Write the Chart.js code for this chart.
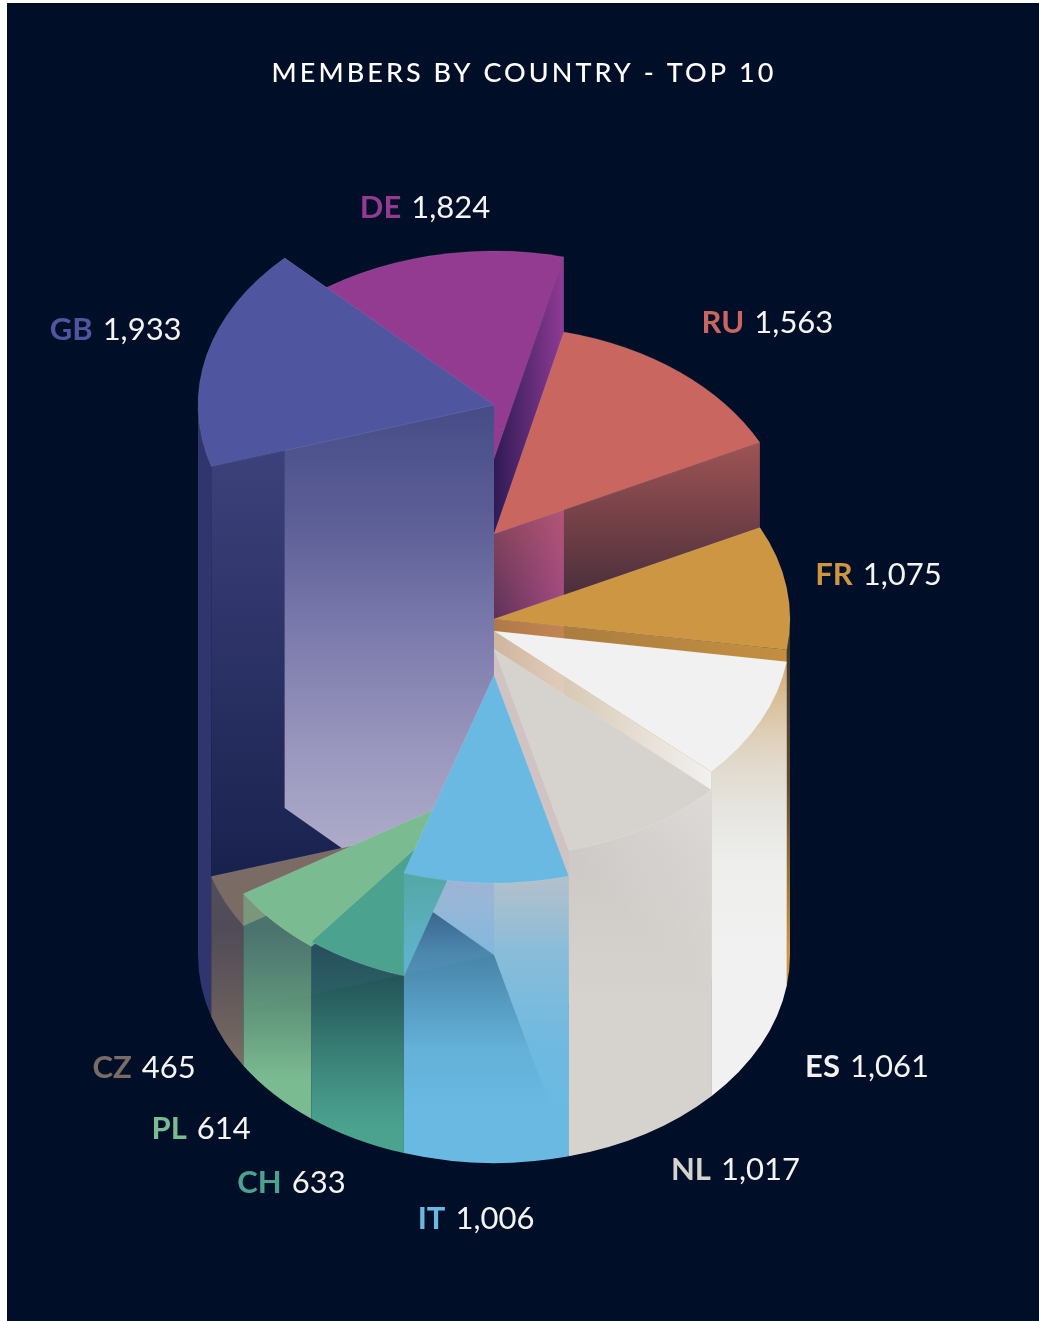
<!DOCTYPE html>
<html>
<head>
<meta charset="utf-8">
<title>Members by country</title>
<script src="https://cdn.jsdelivr.net/npm/chart.js@4/dist/chart.umd.min.js"></script>
<style>
  html, body { margin: 0; padding: 0; background: #fff; }
  #wrap { position: absolute; left: 0; top: 0; width: 1039px; height: 1321px; }
</style>
</head>
<body>
<div id="wrap"><canvas id="myChart" width="1039" height="1321"></canvas></div>
<script>
var countries = ["GB", "DE", "RU", "FR", "ES", "NL", "IT", "CH", "PL", "CZ"];
var members = [1933, 1824, 1563, 1075, 1061, 1017, 1006, 633, 614, 465];
// how tall each column stands
var columnHeight = [550, 496, 421, 336, 324, 306, 280, 177, 172, 140];
var colors = ["#4f569f", "#933b90", "#ca6660", "#cd9642", "#f1f1f1", "#d6d3ce", "#69b9e2", "#4ba28f", "#7bbb92", "#7a6b65"];

// label offset from the slice's mid point, same order as countries
var labelShift = [[-91, -25], [11, -51], [88, -49], [92, -12], [106, 22], [89, 37], [-10, 56], [-64, 44], [-73, 35], [-81, 26]];

var GB = 0, DE = 1, RU = 2, FR = 3, ES = 4, NL = 5, IT = 6, CH = 7, PL = 8, CZ = 9;
var squash = 208 / 296;

function rgba(hex, a) {
    var n = parseInt(hex.slice(1), 16);
    return "rgba(" + (n >> 16) + "," + ((n >> 8) & 255) + "," + (n & 255) + "," + a + ")";
}

function gradient(ctx, x0, y0, x1, y1, stops) {
    var g = ctx.createLinearGradient(x0, y0, x1, y1);
    stops.forEach(function (s) { g.addColorStop(s[0], s[1]); });
    return g;
}

// outer wall: the colour fades in from y0 to y1
function fadeDown(ctx, i, y0, y1, alphas) {
    return gradient(ctx, 0, y0, 0, y1, alphas.map(function (s) {
        return [s[0], rgba(colors[i], s[1])];
    }));
}

function fadeAcross(ctx, i, x0, x1, a0, a1) {
    return gradient(ctx, x0, 0, x1, 0, [[0, rgba(colors[i], a0)], [1, rgba(colors[i], a1)]]);
}

function drawTop(ctx, arc, i) {
    var h = columnHeight[i];
    ctx.beginPath();
    ctx.moveTo(arc.x, arc.y - h);
    ctx.ellipse(arc.x, arc.y - h, arc.outerRadius, arc.outerRadius * squash, 0, arc.startAngle, arc.endAngle);
    ctx.closePath();
    ctx.fillStyle = colors[i];
    ctx.fill();
    ctx.strokeStyle = "rgba(255,255,255,0.18)";
    ctx.lineWidth = 0.5;
    ctx.stroke();
}

function drawWall(ctx, arc, i, angle, fill) {
    var h = columnHeight[i];
    var tx = arc.x + arc.outerRadius * Math.cos(angle);
    var ty = arc.y + arc.outerRadius * squash * Math.sin(angle);
    ctx.beginPath();
    ctx.moveTo(arc.x, arc.y - h);
    ctx.lineTo(tx, ty - h);
    ctx.lineTo(tx, ty);
    ctx.lineTo(arc.x, arc.y);
    ctx.closePath();
    ctx.fillStyle = fill;
    ctx.fill();
}

// only the part of the rim that faces the viewer
function drawOuter(ctx, arc, i, fill) {
    var h = columnHeight[i];
    var ry = arc.outerRadius * squash;
    var a0 = arc.startAngle, a1 = arc.endAngle;
    if (a1 > Math.PI * 2) {
        a0 -= Math.PI * 2;
        a1 -= Math.PI * 2;
    }
    a0 = Math.max(a0, 0);
    a1 = Math.min(a1, Math.PI);
    if (a1 <= a0) return;
    ctx.beginPath();
    ctx.ellipse(arc.x, arc.y - h, arc.outerRadius, ry, 0, a0, a1);
    ctx.ellipse(arc.x, arc.y, arc.outerRadius, ry, 0, a1, a0, true);
    ctx.closePath();
    ctx.fillStyle = fill;
    ctx.fill();
}

var columnsPlugin = {
    id: "columns",
    beforeDraw: function (chart) {
        var ctx = chart.ctx;
        ctx.fillStyle = "#000f27";
        ctx.fillRect(7, 3, chart.width - 7, chart.height - 3);
        ctx.letterSpacing = "3.05px";
    },
    afterLayout: function (chart) {
        chart.titleBlock.left += 30;
        chart.titleBlock.right += 30;
    },
    beforeDatasetsDraw: function (chart) {
        var ctx = chart.ctx;
        var arcs = chart.getDatasetMeta(0).data;
        ctx.letterSpacing = "0px";
        ctx.save();

        drawWall(ctx, arcs[DE], DE, arcs[DE].endAngle, gradient(ctx, 494, 0, 562, 0, [[0, "#2e1a55"], [1, "#8c3a92"]]));
        drawTop(ctx, arcs[DE], DE);

        drawOuter(ctx, arcs[GB], GB, "#30356f");
        drawWall(ctx, arcs[GB], GB, arcs[GB].startAngle, gradient(ctx, 0, 450, 0, 1020, [[0, "#3d417b"], [0.72, "#1a2350"], [1, "#061330"]]));
        drawWall(ctx, arcs[GB], GB, arcs[GB].endAngle, gradient(ctx, 0, 410, 0, 900, [[0, "#474c88"], [0.25, "#5f6198"], [0.4, "#7574a8"], [0.7, "#9a98be"], [1, "#b8b5d0"]]));
        drawTop(ctx, arcs[GB], GB);

        drawWall(ctx, arcs[RU], RU, arcs[RU].endAngle, fadeDown(ctx, RU, 443, 730, [[0, 0.78], [1, 0]]));
        drawTop(ctx, arcs[RU], RU);

        drawOuter(ctx, arcs[FR], FR, fadeDown(ctx, FR, 650, 950, [[0, 0.3], [0.45, 0.45], [1, 1]]));
        drawWall(ctx, arcs[FR], FR, arcs[FR].endAngle, fadeAcross(ctx, FR, 494, 787, 0.72, 0.95));
        drawTop(ctx, arcs[FR], FR);

        drawOuter(ctx, arcs[ES], ES, gradient(ctx, 0, 663, 0, 950, [[0, "rgba(241,241,241,0.3)"], [0.13, "rgba(241,241,241,0.5)"], [0.35, "rgba(228,224,216,0.92)"], [0.5, "#e5e4e0"], [0.7, "#eeeeec"], [1, colors[ES]]]));
        drawWall(ctx, arcs[ES], ES, arcs[ES].endAngle, fadeAcross(ctx, ES, 494, 712, 0.5, 1));
        drawTop(ctx, arcs[ES], ES);

        drawOuter(ctx, arcs[NL], NL, gradient(ctx, 0, 850, 0, 1000, [[0, "#cdc9c6"], [1, colors[NL]]]));
        drawOuter(ctx, arcs[NL], NL, gradient(ctx, 712, 790, 610, 900, [[0, "rgba(255,255,255,0.32)"], [1, "rgba(255,255,255,0)"]]));
        drawWall(ctx, arcs[NL], NL, arcs[NL].endAngle, "#cfc3c3");
        drawTop(ctx, arcs[NL], NL);

        drawOuter(ctx, arcs[CZ], CZ, fadeDown(ctx, CZ, 930, 1060, [[0, 0.6], [1, 1]]));
        drawTop(ctx, arcs[CZ], CZ);
        drawOuter(ctx, arcs[PL], PL, fadeDown(ctx, PL, 930, 1080, [[0, 0.55], [0.47, 0.75], [1, 1]]));
        drawTop(ctx, arcs[PL], PL);
        drawOuter(ctx, arcs[CH], CH, fadeDown(ctx, CH, 950, 1130, [[0, 0.4], [0.28, 0.55], [0.55, 0.75], [0.83, 0.92], [1, 1]]));
        drawTop(ctx, arcs[CH], CH);

        drawOuter(ctx, arcs[IT], IT, fadeDown(ctx, IT, 883, 1110, [[0, 0.3], [0.16, 0.5], [0.3, 0.68], [0.52, 0.82], [0.73, 0.95], [1, 1]]));
        drawTop(ctx, arcs[IT], IT);

        ctx.restore();
        return false;
    },
    afterDraw: function (chart) {
        var ctx = chart.ctx;
        var arcs = chart.getDatasetMeta(0).data;
        ctx.save();
        ctx.textBaseline = "middle";
        arcs.forEach(function (arc, i) {
            var mid = (arc.startAngle + arc.endAngle) / 2;
            var lift = Math.sin(mid) < 0.2 ? columnHeight[i] : 0;
            var x = arc.x + arc.outerRadius * Math.cos(mid) + labelShift[i][0];
            var y = arc.y + arc.outerRadius * squash * Math.sin(mid) - lift + labelShift[i][1];
            var value = members[i].toLocaleString("en-US");
            ctx.font = "bold 31px Lato";
            var w1 = ctx.measureText(countries[i]).width;
            ctx.font = "31px Lato";
            var w2 = ctx.measureText(value).width;
            var left = x - (w1 + 10 + w2) / 2;
            ctx.textAlign = "left";
            ctx.font = "bold 31px Lato";
            ctx.fillStyle = colors[i];
            ctx.fillText(countries[i], left, y);
            ctx.font = "31px Lato";
            ctx.fillStyle = "#f4f4f4";
            ctx.fillText(value, left + w1 + 10, y);
        });
        ctx.restore();
    }
};

var myChart = new Chart(document.getElementById("myChart"), {
    type: "pie",
    data: {
        labels: countries,
        datasets: [
            {
                label: "Members",
                data: members,
                backgroundColor: colors,
                borderWidth: 0
            }
        ]
    },
    options: {
        responsive: false,
        animation: false,
        events: [],
        rotation: 252.8,
        layout: { padding: { left: 198, right: 249, top: 0, bottom: 70 } },
        plugins: {
            legend: { display: false },
            tooltip: { enabled: false },
            title: {
                display: true,
                text: "MEMBERS BY COUNTRY - TOP 10",
                color: "#ffffff",
                font: { family: "Lato", size: 27, weight: "500", lineHeight: 1.2 },
                padding: { top: 57, bottom: 569.6 }
            }
        }
    },
    plugins: [columnsPlugin]
});
</script>
</body>
</html>
